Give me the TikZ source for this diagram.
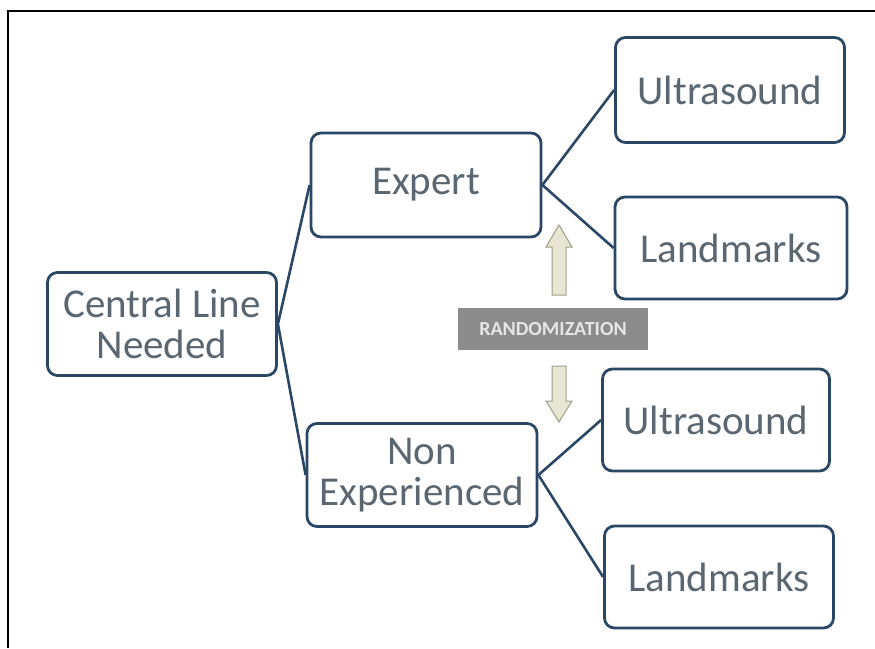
\documentclass[tikz,border=0pt]{standalone}
\usepackage{fontspec}
\setmainfont{Carlito}
\usetikzlibrary{positioning}
\definecolor{boxline}{HTML}{2A4866}
\definecolor{boxtext}{HTML}{5A6670}
\definecolor{randbg}{HTML}{8C8C8C}
\definecolor{randtx}{HTML}{E6E6E6}
\definecolor{arrfill}{HTML}{E8E5D2}
\definecolor{arrline}{HTML}{A09F8C}
\tikzset{
  box/.style={draw=boxline, line width=2.8pt, rounded corners=10pt, fill=white,
    text=boxtext, font=\fontsize{41}{41}\selectfont, align=center, inner sep=0pt},
  conn/.style={draw=boxline, line width=2.6pt},
  randarrow/.style={fill=arrfill, draw=arrline, line width=1pt}
}
\begin{document}
\begin{tikzpicture}[x=1pt,y=-1pt]
\useasboundingbox (0,0) rectangle (875,648);
\fill[white] (0,0) rectangle (875,648);
\draw[black, line width=2pt] (8,648) -- (8,11) -- (875,11);

\node[box, minimum width=229pt, minimum height=103pt] (central) at (162,324) {Central Line\\Needed};
\node[box, minimum width=230pt, minimum height=104pt] (expert) at (426,185) {Expert};
\node[box, minimum width=230pt, minimum height=103pt] (nonexp) at (422,475) {Non\\Experienced};
\node[box, minimum width=229pt, minimum height=105pt] (us1) at (730,90) {Ultrasound};
\node[box, minimum width=232pt, minimum height=102pt] (lm1) at (731,248) {Landmarks};
\node[box, minimum width=227pt, minimum height=102pt] (us2) at (716,420) {Ultrasound};
\node[box, minimum width=229pt, minimum height=102pt] (lm2) at (719,577) {Landmarks};

\draw[conn] (expert.west) -- (central.east) -- (nonexp.west);
\draw[conn] (us1.west) -- (expert.east) -- (lm1.west);
\draw[conn] (us2.west) -- (nonexp.east) -- (lm2.west);

\node[fill=randbg, minimum width=190pt, minimum height=42pt, inner sep=0pt,
  text=randtx, font=\fontsize{20}{20}\selectfont\bfseries] (rand) at (553,329) {RANDOMIZATION};

\path[randarrow] (552,295) -- (552,247) -- (546,247) -- (559,225) -- (572,247) -- (566,247) -- (566,295) -- cycle;
\path[randarrow] (552,366) -- (552,401) -- (546,401) -- (559,422) -- (572,401) -- (566,401) -- (566,366) -- cycle;
\end{tikzpicture}
\end{document}
